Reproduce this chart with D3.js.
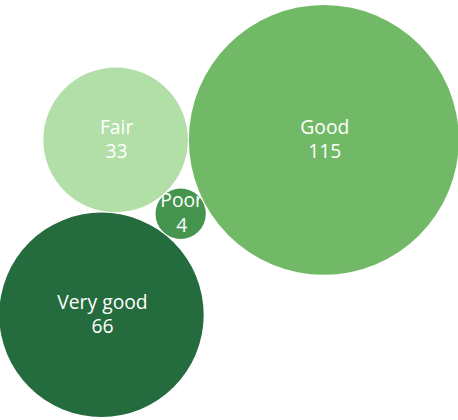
<!DOCTYPE html>
<html>
<head>
<meta charset="utf-8">
<script src="https://cdn.jsdelivr.net/npm/d3@7"></script>
<style>
  html, body { margin: 0; padding: 0; background: #ffffff; }
  svg { display: block; }
  text { font-family: "Segoe UI", "Open Sans", "Noto Sans", sans-serif; }
</style>
</head>
<body>
<svg id="chart" width="458" height="420"></svg>
<script>
// Ratings and their counts, in packing order
const categories = ["Poor", "Fair", "Good", "Very good"];
const counts = [4, 33, 115, 66];
const colours = ["#45954f", "#b2dfa7", "#72b967", "#246b3e"];

const width = 458, height = 420;
const box = { left: 0.7, right: 457.3, top: 2.7, bottom: 419.3 };
const gap = 0.04; // spacing between bubbles, in layout units

const svg = d3.select("#chart");

// Bubble area is proportional to the count
const rUnit = d3.scaleSqrt().domain([0, 1]).range([0, 1]);

const nodes = categories.map((name, i) => ({
  name, value: counts[i], colour: colours[i], r: rUnit(counts[i]) + gap
}));
d3.packSiblings(nodes);

// Turn the cluster so that Fair and Good sit side by side
const fair = nodes.find(d => d.name === "Fair");
const good = nodes.find(d => d.name === "Good");
const theta = Math.atan2(good.y - fair.y, good.x - fair.x);
const cos = Math.cos(-theta), sin = Math.sin(-theta);
nodes.forEach(d => {
  const x = d.x * cos - d.y * sin;
  const y = d.x * sin + d.y * cos;
  d.x = x; d.y = y;
});

// Fit the cluster to the frame, balancing the horizontal and vertical fit
const x0 = d3.min(nodes, d => d.x - d.r), x1 = d3.max(nodes, d => d.x + d.r);
const y0 = d3.min(nodes, d => d.y - d.r), y1 = d3.max(nodes, d => d.y + d.r);
const kx = (box.right - box.left) / (x1 - x0);
const ky = (box.bottom - box.top) / (y1 - y0);
const k = (kx + ky) / 2;
const cxBox = (box.left + box.right) / 2, cyBox = (box.top + box.bottom) / 2;
const xs = d3.scaleLinear().domain([x0, x1])
  .range([cxBox - k * (x1 - x0) / 2, cxBox + k * (x1 - x0) / 2]);
const ys = d3.scaleLinear().domain([y0, y1])
  .range([cyBox - k * (y1 - y0) / 2, cyBox + k * (y1 - y0) / 2]);

const g = svg.selectAll("g.bubble")
  .data(nodes)
  .join("g")
  .attr("class", "bubble")
  .attr("transform", d => `translate(${xs(d.x)},${ys(d.y)})`);

g.append("circle")
  .attr("r", d => rUnit(d.value) * k)
  .attr("fill", d => d.colour);

const label = g.append("text")
  .attr("text-anchor", "middle")
  .attr("fill", "#ffffff")
  .style("font-size", "19.3px");

label.append("tspan").attr("x", 1).attr("y", -6.3).text(d => d.name);
label.append("tspan").attr("x", 1).attr("y", 18.6).text(d => d.value);
</script>
</body>
</html>
